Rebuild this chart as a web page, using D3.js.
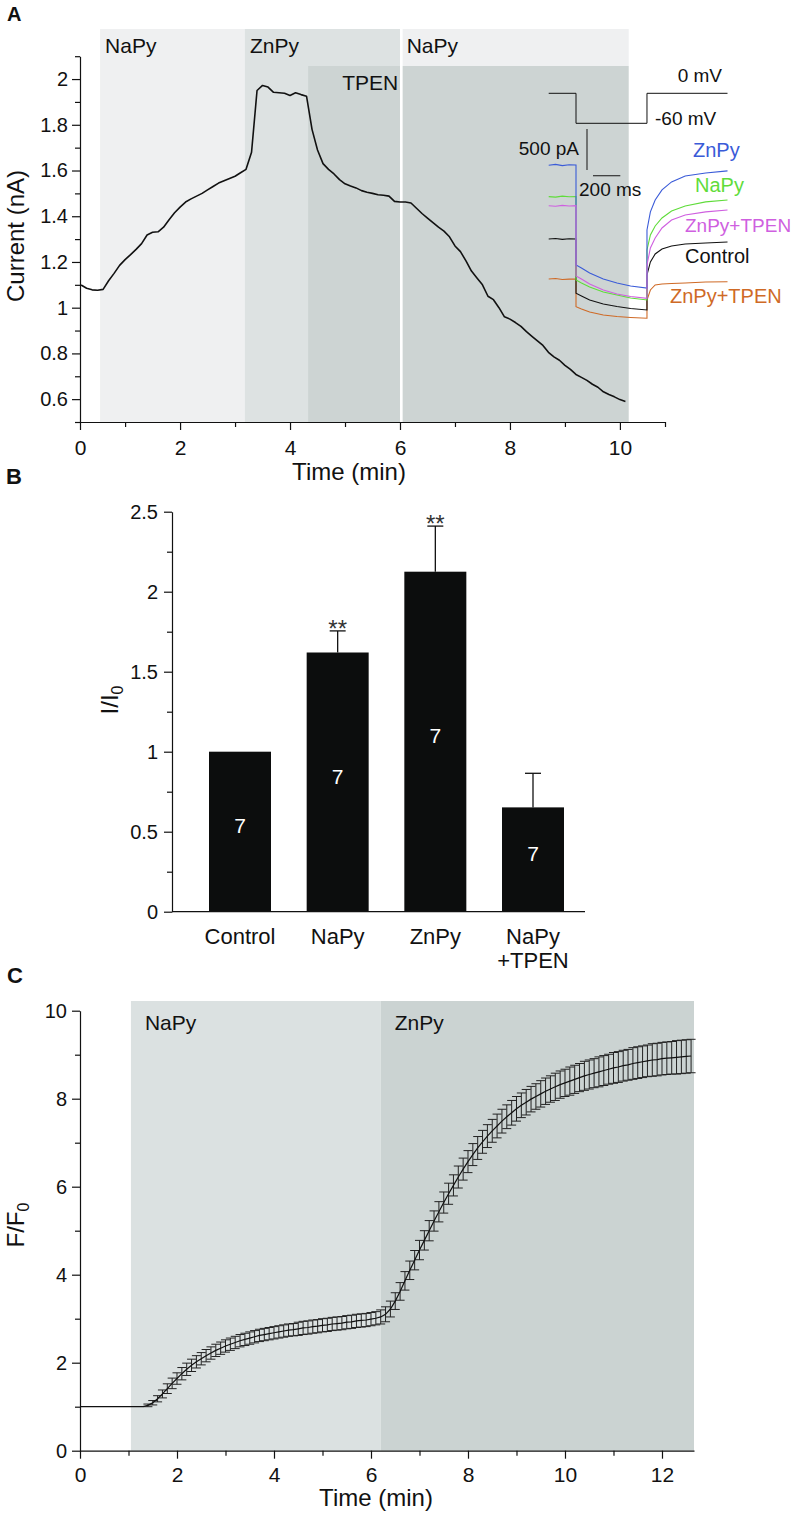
<!DOCTYPE html>
<html lang="en">
<head>
<meta charset="UTF-8">
<script src="https://cdn.jsdelivr.net/npm/d3@7"></script>
<style>
  body { margin: 0; background: #fff; }
  svg { display: block; }
  .axis path, .axis line { stroke: #111; stroke-width: 1.2; }
  .axis text { fill: #111; }
</style>
</head>
<body>
<script>
  const FONT = '"Liberation Sans", Arial, Helvetica, sans-serif';

  // ---------- Panel A: current vs time ----------
  const A_T0 = 0.2, A_DT = 0.1;   // sampling of the trace (min)
  const A_CURRENT = [
    1.099, 1.085, 1.078, 1.076, 1.080, 1.118, 1.150, 1.185, 1.210, 1.232,
    1.255, 1.280, 1.318, 1.330, 1.332, 1.352, 1.385, 1.415, 1.440, 1.462,
    1.476, 1.488, 1.500, 1.515, 1.530, 1.545, 1.555, 1.565, 1.575, 1.590,
    1.605, 1.680, 1.950, 1.972, 1.965, 1.942, 1.940, 1.938, 1.928, 1.940,
    1.932, 1.925, 1.780, 1.690, 1.630, 1.605, 1.585, 1.560, 1.542, 1.532,
    1.524, 1.512, 1.505, 1.500, 1.494, 1.492, 1.488, 1.465, 1.462, 1.462,
    1.458, 1.435, 1.412, 1.392, 1.372, 1.352, 1.335, 1.310, 1.270, 1.245,
    1.205, 1.160, 1.130, 1.100, 1.050, 1.035, 1.000, 0.960, 0.950, 0.935,
    0.918, 0.895, 0.875, 0.855, 0.835, 0.805, 0.785, 0.770, 0.748, 0.730,
    0.708, 0.695, 0.682, 0.665, 0.652, 0.632, 0.620, 0.610, 0.598, 0.590
  ];
  const A_PERIODS = [
    { label: "NaPy", start: 0.545, end: 3.18 },
    { label: "ZnPy", start: 3.18, end: 6.0 },
    { label: "TPEN", start: 4.33, end: 10.16 },
    { label: "NaPy", start: 6.03, end: 10.16 }
  ];
  const A_X_DOMAIN = [0.18, 10.82];
  const A_X_MAJOR = [0.18, 2, 4, 6, 8, 10];
  const A_X_MINOR = [1, 3, 5, 7, 9, 10.82];
  const A_Y_MAJOR = [0.6, 0.8, 1, 1.2, 1.4, 1.6, 1.8, 2];
  const A_Y_MINOR = [0.5, 0.7, 0.9, 1.1, 1.3, 1.5, 1.7, 1.9, 2.1];

  // inset: step protocol and currents (pA)
  const INSET_MS = [-200, -150, -100, -50, 0, 0, 40, 100, 200, 300, 400, 520, 520, 545, 580, 630, 700, 800, 950, 1110];
  const INSET_ZNPY   = [2010, 2020, 2005, 2015, 2012, 793, 756, 695, 622, 573, 537, 512, 1220, 1440, 1586, 1708, 1806, 1879, 1915, 1940];
  const INSET_NAPY   = [1626, 1620, 1632, 1625, 1626, 610, 573, 525, 464, 427, 390, 366, 976, 1159, 1269, 1366, 1452, 1513, 1562, 1586];
  const INSET_ZNTP_1 = [1516, 1510, 1520, 1512, 1516, 659, 622, 561, 488, 439, 409, 387, 793, 1000, 1122, 1244, 1342, 1403, 1440, 1464];
  const INSET_CTRL   = [1110, 1115, 1105, 1112, 1110, 448, 415, 366, 317, 287, 262, 244, 671, 830, 927, 988, 1025, 1049, 1061, 1074];
  const INSET_ZNTP_2 = [622, 628, 615, 620, 622, 284, 256, 220, 183, 165, 153, 143, 366, 488, 549, 561, 567, 573, 586, 589];
  const INSET_V_MS = [-200, 0, 0, 520, 520, 1110];
  const INSET_V_MV = [0, 0, -60, -60, 0, 0];

  // ---------- Panel B: normalised current ----------
  const B_CATS = ["Control", "NaPy", "ZnPy", "NaPy+TPEN"];
  const B_LABELS = [["Control"], ["NaPy"], ["ZnPy"], ["NaPy", "+TPEN"]];
  const B_MEAN = [1.0, 1.62, 2.125, 0.652];
  const B_SEM = [0, 0.135, 0.285, 0.213];
  const B_N = [7, 7, 7, 7];
  const B_SIG = ["", "**", "**", ""];
  const B_Y_MAJOR = [0, 0.5, 1, 1.5, 2, 2.5];
  const B_Y_MINOR = [0.25, 0.75, 1.25, 1.75, 2.25];

  // ---------- Panel C: F/F0 vs time ----------
  const C_T0 = 0, C_DT = 0.1;
  const C_MEAN = [
    1, 1, 1, 1, 1, 1, 1, 1, 1, 1, 1, 1, 1, 1,
    1.03, 1.09, 1.18, 1.29, 1.41, 1.53, 1.64,
    1.75, 1.85, 1.94, 2.02, 2.09, 2.16, 2.22, 2.28, 2.33, 2.38,
    2.42, 2.46, 2.50, 2.53, 2.56, 2.59, 2.62, 2.64, 2.66, 2.68,
    2.70, 2.72, 2.74, 2.75, 2.77, 2.79, 2.80, 2.82, 2.83, 2.85,
    2.86, 2.88, 2.89, 2.90, 2.92, 2.93, 2.95, 2.96, 2.97, 2.99,
    3.01, 3.04, 3.10, 3.22, 3.40, 3.62, 3.86, 4.10, 4.33, 4.56,
    4.78, 5.00, 5.22, 5.43, 5.64, 5.84, 6.03, 6.22, 6.40, 6.57,
    6.73, 6.88, 7.02, 7.15, 7.27, 7.38, 7.49, 7.59, 7.68, 7.77,
    7.85, 7.92, 7.99, 8.05, 8.11, 8.17, 8.22, 8.27, 8.32, 8.36,
    8.40, 8.44, 8.48, 8.52, 8.55, 8.58, 8.61, 8.64, 8.67, 8.70,
    8.72, 8.75, 8.77, 8.80, 8.82, 8.84, 8.86, 8.88, 8.89, 8.91,
    8.92, 8.93, 8.94, 8.95, 8.96, 8.97
  ];
  const C_SEM = [
    0, 0, 0, 0, 0, 0, 0, 0, 0, 0, 0, 0, 0, 0,
    0.03, 0.05, 0.07, 0.09, 0.11, 0.12, 0.13,
    0.14, 0.14, 0.14, 0.14, 0.14, 0.14, 0.14, 0.14, 0.14, 0.14,
    0.14, 0.14, 0.14, 0.14, 0.14, 0.14, 0.14, 0.14, 0.14, 0.14,
    0.14, 0.14, 0.14, 0.14, 0.15, 0.15, 0.15, 0.15, 0.15, 0.15,
    0.15, 0.15, 0.15, 0.15, 0.15, 0.15, 0.15, 0.15, 0.15, 0.15,
    0.15, 0.16, 0.17, 0.18, 0.19, 0.20, 0.21, 0.21, 0.22, 0.22,
    0.22, 0.23, 0.23, 0.23, 0.24, 0.24, 0.24, 0.25, 0.25, 0.25,
    0.25, 0.26, 0.26, 0.26, 0.26, 0.27, 0.27, 0.27, 0.28, 0.28,
    0.28, 0.29, 0.29, 0.29, 0.30, 0.30, 0.30, 0.31, 0.31, 0.31,
    0.32, 0.32, 0.32, 0.33, 0.33, 0.33, 0.34, 0.34, 0.34, 0.35,
    0.35, 0.35, 0.35, 0.36, 0.36, 0.36, 0.36, 0.37, 0.37, 0.37,
    0.37, 0.37, 0.38, 0.38, 0.38, 0.38
  ];
  const C_PERIODS = [
    { label: "NaPy", start: 1.05, end: 6.2 },
    { label: "ZnPy", start: 6.2, end: 12.66 }
  ];
  const C_Y_MAJOR = [0, 2, 4, 6, 8, 10];
  const C_Y_MINOR = [1, 3, 5, 7, 9];
  const C_X_MAJOR = [0, 2, 4, 6, 8, 10, 12];
  const C_X_MINOR = [1, 3, 5, 7, 9, 11];

  const svg = d3.select('body').append('svg')
    .attr('width', 793).attr('height', 1515)
    .attr('font-family', FONT);

  const num = d => String(+d.toFixed(2));

  // axis with short minor ticks + labelled major ticks
  function drawAxis(orient, scale, pos, major, minor, fmt, fs, pad) {
    const make = orient === 'left' ? d3.axisLeft : d3.axisBottom;
    const tr = orient === 'left' ? `translate(${pos},0)` : `translate(0,${pos})`;
    svg.append('g').attr('class', 'axis').attr('transform', tr)
      .call(make(scale).tickValues(minor).tickSize(5).tickSizeOuter(0).tickFormat(''))
      .select('.domain').remove();
    const g = svg.append('g').attr('class', 'axis').attr('transform', tr)
      .call(make(scale).tickValues(major).tickSize(8).tickSizeOuter(0).tickPadding(pad).tickFormat(fmt));
    g.attr('font-size', fs).attr('font-family', FONT);
    return g;
  }

  function label(x, y, txt, fs, opts = {}) {
    return svg.append('text').attr('x', x).attr('y', y)
      .attr('font-size', fs)
      .attr('font-weight', opts.bold ? 'bold' : null)
      .attr('text-anchor', opts.anchor || 'start')
      .attr('fill', opts.color || '#111')
      .text(txt);
  }

  // ================= Panel A =================
  const xA = d3.scaleLinear().domain(A_X_DOMAIN).range([80, 665]);
  const yA = d3.scaleLinear().domain([0.5, 2.1]).range([422, 56.2]);

  const bandFill = ['#eff0f1', '#dde2e2', '#cdd4d3', '#eff0f1'];
  const bandTop = [29, 29, 66, 29];
  const bandBottom = [422, 422, 422, 66];
  const gA = svg.append('g');
  gA.selectAll('rect.band').data(A_PERIODS).enter().append('rect')
    .attr('x', d => xA(d.start))
    .attr('width', d => xA(d.end) - xA(d.start))
    .attr('y', (d, i) => bandTop[i])
    .attr('height', (d, i) => bandBottom[i] - bandTop[i])
    .attr('fill', (d, i) => bandFill[i]);
  // thin white gap where the bath changed back to NaPy
  gA.append('rect')
    .attr('x', xA(A_PERIODS[1].end)).attr('width', xA(A_PERIODS[3].start) - xA(A_PERIODS[1].end) + 1)
    .attr('y', 29).attr('height', 422 - 29).attr('fill', '#fff');

  const bandLabelY = [53, 53, 90, 53];
  A_PERIODS.forEach((p, i) => label(xA(p.start) + (i === 2 ? 34 : 5), bandLabelY[i], p.label, 21));

  const lineA = d3.line().x((d, i) => xA(A_T0 + i * A_DT)).y(d => yA(d));
  svg.append('path').datum(A_CURRENT).attr('d', lineA)
    .attr('fill', 'none').attr('stroke', '#111').attr('stroke-width', 1.6)
    .attr('stroke-linejoin', 'round');

  drawAxis('left', yA, 80, A_Y_MAJOR, A_Y_MINOR, num, 20, 4);
  drawAxis('bottom', xA, 422, A_X_MAJOR, A_X_MINOR, d => d < 1 ? '0' : num(d), 21, 10);

  svg.append('text').attr('transform', 'translate(24,236) rotate(-90)')
    .attr('text-anchor', 'middle').attr('font-size', 24).attr('fill', '#111').text('Current (nA)');
  label(349, 480, 'Time (min)', 24, { anchor: 'middle' });
  label(7, 21, 'A', 20, { bold: true });

  // ---- inset ----
  const xI = d3.scaleLinear().domain([0, 200]).range([576, 603.3]);
  const yI = d3.scaleLinear().domain([0, 500]).range([330, 289]);
  const yV = d3.scaleLinear().domain([-60, 0]).range([123.3, 93.3]);

  svg.append('path').datum(INSET_V_MS)
    .attr('d', d3.line().x(d => xI(d)).y((d, i) => yV(INSET_V_MV[i])))
    .attr('fill', 'none').attr('stroke', '#111').attr('stroke-width', 1);
  label(722, 82, '0 mV', 19, { anchor: 'end' });
  label(655, 125, '-60 mV', 19);

  // scale bars
  const barBottom = 170;
  svg.append('line').attr('x1', 587).attr('x2', 587)
    .attr('y1', barBottom).attr('y2', barBottom - (yI(0) - yI(500)))
    .attr('stroke', '#333').attr('stroke-width', 1.2);
  svg.append('line').attr('x1', 593).attr('x2', 593 + xI(200) - xI(0))
    .attr('y1', 175.7).attr('y2', 175.7)
    .attr('stroke', '#333').attr('stroke-width', 1.2);
  label(579, 155, '500 pA', 19, { anchor: 'end' });
  label(579, 196, '200 ms', 19);

  const insetTraces = [
    { v: INSET_ZNTP_2, c: '#cf6a26' },
    { v: INSET_CTRL, c: '#111111' },
    { v: INSET_NAPY, c: '#5fdc3a' },
    { v: INSET_ZNPY, c: '#3a5bd8' },
    { v: INSET_ZNTP_1, c: '#cf5fe0' }
  ];
  const lineI = d3.line().x((d, i) => xI(INSET_MS[i])).y(d => yI(d));
  insetTraces.forEach(t => {
    svg.append('path').datum(t.v).attr('d', lineI)
      .attr('fill', 'none').attr('stroke', t.c).attr('stroke-width', 1.1);
  });
  label(693, 157, 'ZnPy', 20, { color: '#3a5bd8' });
  label(695, 192, 'NaPy', 20, { color: '#5fdc3a' });
  label(685, 232, 'ZnPy+TPEN', 19, { color: '#cf5fe0' });
  label(685, 263, 'Control', 20, { color: '#111' });
  label(670, 303, 'ZnPy+TPEN', 20, { color: '#cf6a26' });

  // ================= Panel B =================
  const xB = d3.scalePoint().domain(B_CATS).range([240, 533]);
  const yB = d3.scaleLinear().domain([0, 2.5]).range([911.7, 511.7]);
  const barW = 62;

  svg.append('g').selectAll('rect').data(B_CATS).enter().append('rect')
    .attr('x', d => xB(d) - barW / 2).attr('width', barW)
    .attr('y', (d, i) => yB(B_MEAN[i]))
    .attr('height', (d, i) => yB(0) - yB(B_MEAN[i]))
    .attr('fill', '#0c0d0d');

  B_CATS.forEach((c, i) => {
    if (B_SEM[i] > 0) {
      const top = yB(B_MEAN[i] + B_SEM[i]);
      svg.append('line').attr('x1', xB(c)).attr('x2', xB(c))
        .attr('y1', yB(B_MEAN[i])).attr('y2', top).attr('stroke', '#111').attr('stroke-width', 1.3);
      svg.append('line').attr('x1', xB(c) - 8).attr('x2', xB(c) + 8)
        .attr('y1', top).attr('y2', top).attr('stroke', '#111').attr('stroke-width', 1.3);
      if (B_SIG[i]) label(xB(c), top + 6, B_SIG[i], 24, { anchor: 'middle', color: '#333' });
    }
    const mid = (yB(0) + yB(B_MEAN[i])) / 2;
    label(xB(c), mid + 1.5, B_N[i], 21, { anchor: 'middle', color: '#fff' });
    B_LABELS[i].forEach((ln, k) => label(xB(c), 944 + k * 24, ln, 22, { anchor: 'middle' }));
  });

  drawAxis('left', yB, 172, B_Y_MAJOR, B_Y_MINOR, num, 20, 6);
  svg.append('line').attr('x1', 172).attr('x2', 585).attr('y1', yB(0)).attr('y2', yB(0))
    .attr('stroke', '#111').attr('stroke-width', 1.2);

  const yLabB = svg.append('text').attr('transform', 'translate(118,700) rotate(-90)')
    .attr('text-anchor', 'middle').attr('font-size', 24).attr('fill', '#111');
  yLabB.append('tspan').text('I/I');
  yLabB.append('tspan').attr('font-size', 16).attr('dy', 5).text('0');
  label(6, 484, 'B', 22, { bold: true });

  // ================= Panel C =================
  const xC = d3.scaleLinear().domain([0, 12.66]).range([80, 694]);
  const yC = d3.scaleLinear().domain([0, 10]).range([1450.7, 1010.7]);
  const cFill = ['#dbe1e1', '#cbd3d2'];

  svg.append('g').selectAll('rect').data(C_PERIODS).enter().append('rect')
    .attr('x', d => xC(d.start)).attr('width', d => xC(d.end) - xC(d.start))
    .attr('y', 1001).attr('height', 1450.7 - 1001)
    .attr('fill', (d, i) => cFill[i]);
  C_PERIODS.forEach(p => label(xC(p.start) + 14, 1030, p.label, 21));

  // error bars with caps
  const capW = 4.5;
  let ebPath = '';
  C_MEAN.forEach((m, i) => {
    const s = C_SEM[i];
    if (s <= 0) return;
    const x = xC(C_T0 + i * C_DT), y1 = yC(m - s), y2 = yC(m + s);
    ebPath += `M${x},${y1}V${y2}M${x - capW},${y1}H${x + capW}M${x - capW},${y2}H${x + capW}`;
  });
  svg.append('path').attr('d', ebPath).attr('fill', 'none')
    .attr('stroke', '#222').attr('stroke-width', 1);

  svg.append('path').datum(C_MEAN)
    .attr('d', d3.line().x((d, i) => xC(C_T0 + i * C_DT)).y(d => yC(d)))
    .attr('fill', 'none').attr('stroke', '#111').attr('stroke-width', 1.2);

  drawAxis('left', yC, 80, C_Y_MAJOR, C_Y_MINOR, num, 20, 5);
  drawAxis('bottom', xC, 1450.7, C_X_MAJOR, C_X_MINOR, num, 21, 8);

  const yLabC = svg.append('text').attr('transform', 'translate(24,1225) rotate(-90)')
    .attr('text-anchor', 'middle').attr('font-size', 24).attr('fill', '#111');
  yLabC.append('tspan').text('F/F');
  yLabC.append('tspan').attr('font-size', 16).attr('dy', 5).text('0');
  label(376, 1506, 'Time (min)', 24, { anchor: 'middle' });
  label(7, 983, 'C', 22, { bold: true });
</script>
</body>
</html>
